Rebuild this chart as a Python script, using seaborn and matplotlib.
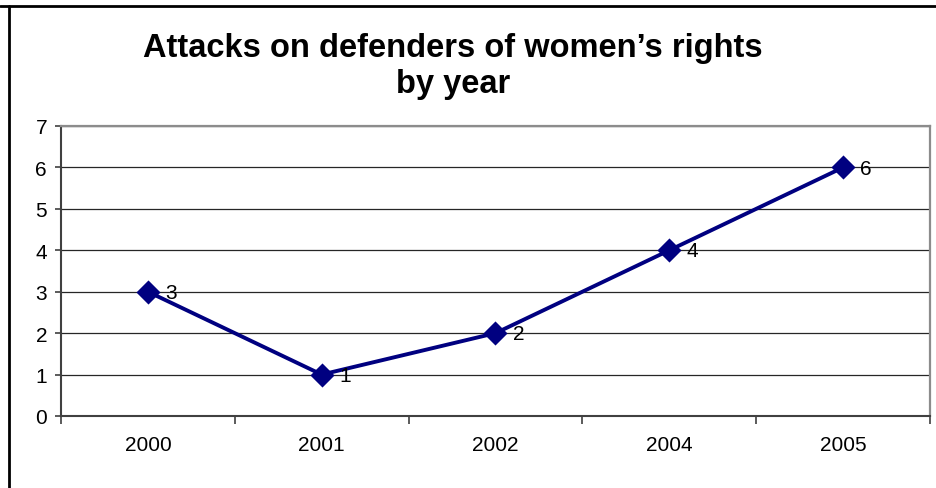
import matplotlib
matplotlib.use("Agg")
import matplotlib.pyplot as plt
import seaborn as sns
import pandas as pd
from matplotlib.lines import Line2D

years = ["2000", "2001", "2002", "2004", "2005"]
attacks = [3, 1, 2, 4, 6]
y_ticks = [0, 1, 2, 3, 4, 5, 6, 7]
title_line1 = "Attacks on defenders of women\u2019s rights"
title_line2 = "by year"

df = pd.DataFrame({"year": years, "attacks": attacks})

sns.set_theme(style="white")
plt.rcParams["font.family"] = ["Liberation Sans", "DejaVu Sans"]
plt.rcParams["text.color"] = "black"
plt.rcParams["xtick.color"] = "black"
plt.rcParams["ytick.color"] = "black"

W, H = 937, 489
fig = plt.figure(figsize=(W / 100, H / 100), dpi=100)
ax = fig.add_axes([61 / W, 1 - 417 / H, 869 / W, 290 / H])

navy = "#000080"
sns.pointplot(data=df, x="year", y="attacks", color=navy, markers="D",
              markersize=10.3, linewidth=2.8, ax=ax, order=years)

# value labels beside each point
for i, v in enumerate(attacks):
    ax.annotate(str(v), (i, v), xytext=(12.5, -0.5), textcoords="offset points",
                ha="left", va="center", fontsize=15, color="black")

ax.set_xlim(-0.5, len(years) - 0.5)
ax.set_ylim(0, 7)
ax.set_yticks(y_ticks)
ax.set_yticklabels([str(t) for t in y_ticks], fontsize=15)
ax.set_xticks(range(len(years)))
ax.set_xticklabels(years, fontsize=15)
ax.set_xticks([i - 0.5 for i in range(len(years) + 1)], minor=True)
ax.tick_params(axis="x", which="major", length=0, pad=13.5)
ax.tick_params(axis="x", which="minor", length=5.7, width=1.2, color="#404040",
               direction="out", bottom=True)
ax.tick_params(axis="y", length=4, width=1.2, color="#404040", direction="out",
               left=True, pad=6)
ax.set_xlabel("")
ax.set_ylabel("")

ax.yaxis.grid(True, color="#262626", linewidth=0.9)
ax.set_axisbelow(True)

for side in ["left", "bottom"]:
    ax.spines[side].set_color("#404040")
    ax.spines[side].set_linewidth(1.5)
for side in ["top", "right"]:
    ax.spines[side].set_color("#8c8c8c")
    ax.spines[side].set_linewidth(1.6)

# two-line chart title
fig.text(453 / W, 1 - 57 / H, title_line1, ha="center", va="baseline",
         fontsize=23.5, fontweight="bold")
fig.text(453 / W, 1 - 93 / H, title_line2, ha="center", va="baseline",
         fontsize=23.5, fontweight="bold")

# chart area frame (top and left edges)
fig.add_artist(Line2D([0, 1], [1 - 7 / H, 1 - 7 / H], transform=fig.transFigure,
                      color="black", linewidth=2))
fig.add_artist(Line2D([9 / W, 9 / W], [0, 1 - 7 / H], transform=fig.transFigure,
                      color="black", linewidth=2))

fig.savefig("out.png", dpi=100)
